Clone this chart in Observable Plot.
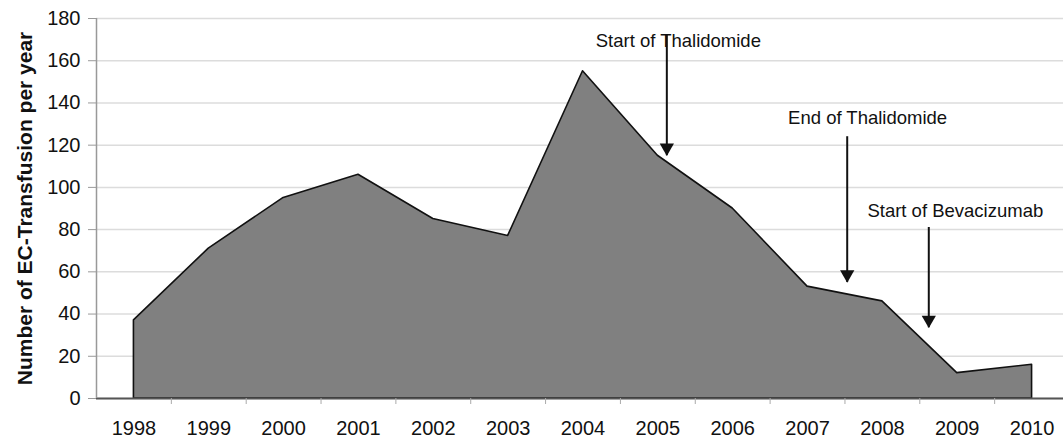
<!DOCTYPE html>
<html><head><meta charset="utf-8">
<script src="https://cdn.jsdelivr.net/npm/d3@7"></script>
<script src="https://cdn.jsdelivr.net/npm/@observablehq/plot@0.6"></script>
<style>body{margin:0;background:#fff;} #chart svg{overflow:hidden;}</style>
</head><body><div id="chart"></div>
<script>
const years = [1998, 1999, 2000, 2001, 2002, 2003, 2004, 2005, 2006, 2007, 2008, 2009, 2010];
const transfusions = [37, 71, 95, 106, 85, 77, 155, 115, 90, 53, 46, 12, 16];
const yTicks = [0, 20, 40, 60, 80, 100, 120, 140, 160, 180];
const yLabel = "Number of EC-Transfusion per year";

const annoLabels = ["Start of Thalidomide", "End of Thalidomide", "Start of Bevacizumab"];
const annoArrowX = [2005.12, 2007.53, 2008.62];
const annoArrowTop = [172, 124, 81];
const annoArrowTip = [115, 55, 33.5];
const annoLabelX = [2004.17, 2006.74, 2007.8];
const annoLabelY = [169.3, 132.9, 89];

const data = years.map((year, i) => ({year, value: transfusions[i]}));
const annos = annoLabels.map((label, i) => ({
  label, ax: annoArrowX[i], top: annoArrowTop[i], tip: annoArrowTip[i],
  lx: annoLabelX[i], ly: annoLabelY[i]
}));
const boundaries = years.slice(0, -1).map(y => y + 0.5);

const chart = Plot.plot({
  width: 1063,
  height: 441,
  marginLeft: 96,
  marginRight: 0,
  marginTop: 18,
  marginBottom: 43,
  style: {fontFamily: "'Liberation Sans', Arial, sans-serif", color: "#111", background: "#fff"},
  x: {domain: [1997.5, 2010.5], range: [96, 1069]},
  y: {domain: [0, 180], range: [398, 18]},
  marks: [
    Plot.gridY(yTicks, {stroke: "#dcdcdc", strokeOpacity: 1, strokeWidth: 1.5}),
    Plot.areaY(data, {x: "year", y: "value", fill: "#808080", stroke: "#111", strokeWidth: 1.6}),
    Plot.ruleY([0], {stroke: "#555", strokeWidth: 2}),
    Plot.ruleX([1997.5], {y1: 0, y2: 180, stroke: "#999", strokeWidth: 1.5}),
    Plot.axisY(yTicks, {tickSize: 8, tickPadding: 8, fontSize: 20, stroke: "#999", label: null}),
    Plot.axisX(years, {tickSize: 0, tickPadding: 22, fontSize: 20, tickFormat: d => String(d), label: null}),
    Plot.axisX(boundaries, {tickSize: 6, tickFormat: () => "", stroke: "#aaa", label: null}),
    Plot.ruleX(annos, {x: "ax", y1: "top", y2: "tip", stroke: "#111", strokeWidth: 2}),
    Plot.dot(annos, {x: "ax", y: "tip", symbol: "triangle", rotate: 180, r: 5.3, fill: "#111", stroke: null, dy: -8}),
    Plot.text(annos, {x: "lx", y: "ly", text: "label", textAnchor: "start", fontSize: 18.5, fill: "#111"}),
    Plot.text([yLabel], {frameAnchor: "left", y: [90], text: d => d, rotate: -90, textAnchor: "middle", dx: -71, fontSize: 21, fontWeight: "bold", fill: "#111"})
  ]
});
document.getElementById("chart").appendChild(chart);
</script>
</body></html>
